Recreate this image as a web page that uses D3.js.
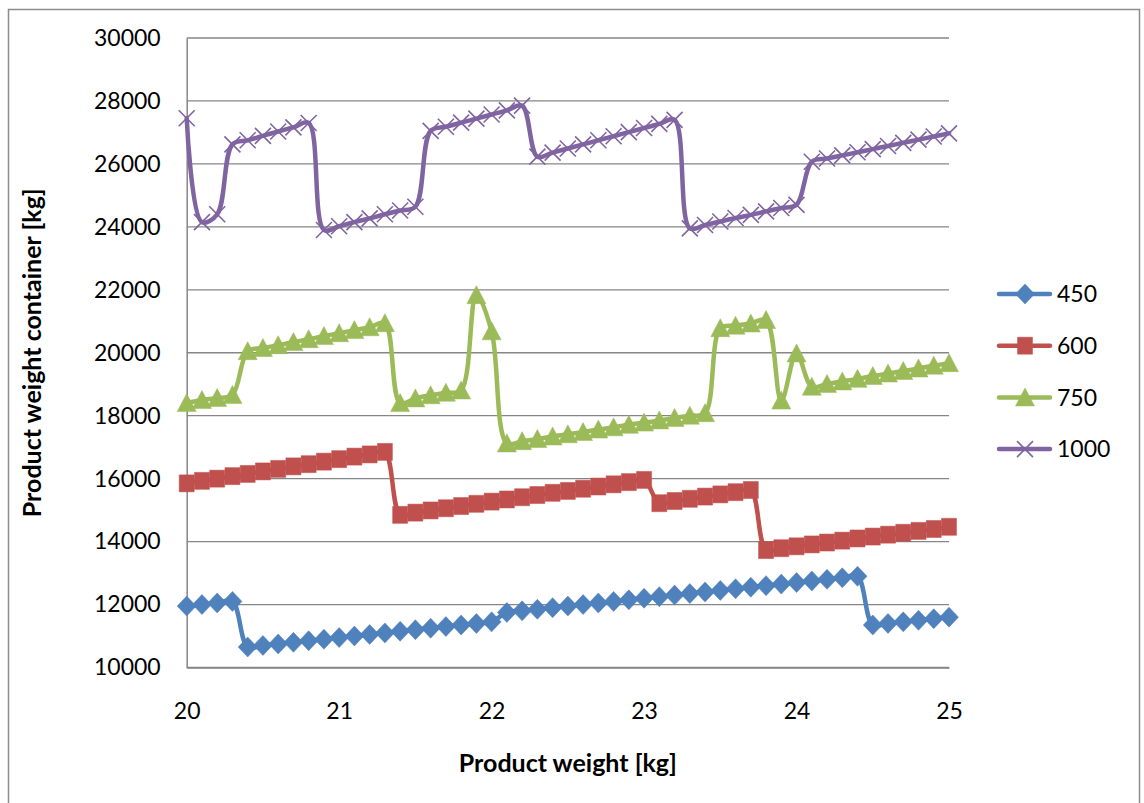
<!DOCTYPE html>
<html>
<head>
<meta charset="utf-8">
<script src="https://cdn.jsdelivr.net/npm/d3@7"></script>
<style>
  body { margin: 0; background: #fff; }
  text { font-family: Lato, "Open Sans", sans-serif; fill: #000; }
</style>
</head>
<body>
<svg width="1144" height="803"></svg>
<script>
var svg = d3.select("svg");

// product weight [kg]
var weights = [20.0, 20.1, 20.2, 20.3, 20.4, 20.5, 20.6, 20.7, 20.8, 20.9,
               21.0, 21.1, 21.2, 21.3, 21.4, 21.5, 21.6, 21.7, 21.8, 21.9,
               22.0, 22.1, 22.2, 22.3, 22.4, 22.5, 22.6, 22.7, 22.8, 22.9,
               23.0, 23.1, 23.2, 23.3, 23.4, 23.5, 23.6, 23.7, 23.8, 23.9,
               24.0, 24.1, 24.2, 24.3, 24.4, 24.5, 24.6, 24.7, 24.8, 24.9, 25.0];

var s450 = [11950, 12000, 12050, 12100, 10650, 10700, 10750, 10800, 10850, 10900,
            10950, 11000, 11050, 11100, 11150, 11200, 11250, 11300, 11350, 11400,
            11450, 11750, 11800, 11850, 11900, 11950, 12000, 12050, 12100, 12150,
            12200, 12250, 12300, 12350, 12400, 12450, 12500, 12550, 12600, 12650,
            12700, 12750, 12800, 12850, 12900, 11350, 11400, 11450, 11500, 11550, 11600];

var s600 = [15850, 15930, 16000, 16080, 16150, 16230, 16310, 16390, 16460, 16540,
            16620, 16700, 16770, 16850, 14850, 14920, 14990, 15060, 15130, 15200,
            15270, 15340, 15410, 15480, 15550, 15610, 15680, 15750, 15820, 15890,
            15960, 15220, 15290, 15360, 15430, 15500, 15570, 15640, 13730, 13790,
            13850, 13910, 13970, 14030, 14100, 14160, 14220, 14280, 14340, 14400, 14470];

var s750 = [18400, 18500, 18560, 18660, 20050, 20150, 20240, 20340, 20430, 20530,
            20620, 20720, 20810, 20940, 18400, 18550, 18650, 18730, 18800, 21830,
            20680, 17120, 17190, 17260, 17340, 17410, 17480, 17560, 17630, 17710,
            17780, 17850, 17930, 18000, 18080, 20780, 20860, 20930, 21040, 18480,
            19980, 18920, 19010, 19090, 19170, 19260, 19340, 19420, 19500, 19590, 19670];

var s1000 = [27450, 24150, 24400, 26620, 26750, 26890, 27030, 27160, 27300, 23900,
             24020, 24150, 24270, 24400, 24520, 24640, 27050, 27180, 27310, 27440,
             27570, 27700, 27850, 26230, 26360, 26490, 26620, 26750, 26880, 27010,
             27140, 27270, 27400, 23950, 24060, 24170, 24280, 24380, 24490, 24600,
             24700, 26070, 26170, 26270, 26370, 26470, 26570, 26670, 26770, 26870, 26970];

var seriesNames = ["450", "600", "750", "1000"];
var seriesValues = [s450, s600, s750, s1000];
var seriesColors = ["#4F81BD", "#C0504D", "#9BBB59", "#8064A2"];
var seriesMarkers = ["diamond", "square", "triangle", "cross"];

var xTicks = [20, 21, 22, 23, 24, 25];
var yTicks = [10000, 12000, 14000, 16000, 18000, 20000, 22000, 24000, 26000, 28000, 30000];

var plotLeft = 186.7, plotRight = 949, plotTop = 38, plotBottom = 667.5;
var grid_color = "#868686";

var x = d3.scaleLinear().domain([20, 25]).range([plotLeft, plotRight]);
var y = d3.scaleLinear().domain([10000, 30000]).range([plotBottom, plotTop]);

// outer chart border
svg.append("rect")
   .attr("x", 8.5).attr("y", 9.5)
   .attr("width", 1131).attr("height", 800)
   .attr("fill", "none")
   .attr("stroke", "#8c8c8c")
   .attr("stroke-width", 1.5);

// horizontal gridlines
svg.append("g")
   .selectAll("line")
   .data(yTicks)
   .enter()
   .append("line")
   .attr("x1", plotLeft).attr("x2", plotRight)
   .attr("y1", function(d) { return y(d); })
   .attr("y2", function(d) { return y(d); })
   .attr("stroke", grid_color)
   .attr("stroke-width", 1.3);

// axes (labels only, Excel style)
var yAxis = svg.append("g")
   .attr("transform", "translate(" + plotLeft + ",0)")
   .call(d3.axisLeft(y).tickValues(yTicks).tickSize(0).tickPadding(26).tickFormat(d3.format("d")));
var xAxis = svg.append("g")
   .attr("transform", "translate(0," + plotBottom + ")")
   .call(d3.axisBottom(x).tickValues(xTicks).tickSize(0).tickPadding(32).tickFormat(d3.format("d")));
[yAxis, xAxis].forEach(function(a) {
    a.select(".domain").attr("stroke", grid_color).attr("stroke-width", 1.5);
    a.selectAll("text").style("font-size", "23px").style("font-family", "Lato, sans-serif");
});
xAxis.selectAll("text").attr("dy", "0.36em").attr("y", 43);

function markerPath(type, cx, cy) {
    if (type == "diamond") {
        return "M" + cx + "," + (cy - 10) + "L" + (cx + 9.5) + "," + cy +
               "L" + cx + "," + (cy + 10) + "L" + (cx - 9.5) + "," + cy + "Z";
    } else if (type == "square") {
        return "M" + (cx - 7.5) + "," + (cy - 8.5) + "h15v17h-15Z";
    } else if (type == "triangle") {
        return "M" + cx + "," + (cy - 9.5) + "L" + (cx + 9.5) + "," + (cy + 8.5) +
               "L" + (cx - 9.5) + "," + (cy + 8.5) + "Z";
    }
    return "M" + (cx - 8) + "," + (cy - 8) + "L" + (cx + 8) + "," + (cy + 8) +
           "M" + (cx - 8) + "," + (cy + 8) + "L" + (cx + 8) + "," + (cy - 8);
}

function drawMarker(g, type, color, cx, cy) {
    var p = g.append("path").attr("d", markerPath(type, cx, cy));
    if (type == "cross") {
        p.attr("fill", "none").attr("stroke", color).attr("stroke-width", 1.6);
    } else {
        p.attr("fill", color).attr("stroke", color).attr("stroke-width", 0.5);
    }
}

var line = d3.line()
    .x(function(d) { return x(d[0]); })
    .y(function(d) { return y(d[1]); })
    .curve(d3.curveCatmullRom);

for (var i = 0; i < seriesValues.length; i++) {
    var pts = weights.map(function(w, j) { return [w, seriesValues[i][j]]; });
    var g = svg.append("g").attr("class", "series");
    g.append("path")
     .attr("d", line(pts))
     .attr("fill", "none")
     .attr("stroke", seriesColors[i])
     .attr("stroke-width", 4.5)
     .attr("stroke-linejoin", "round")
     .attr("stroke-linecap", "round");
    for (var j = 0; j < pts.length; j++) {
        drawMarker(g, seriesMarkers[i], seriesColors[i], x(pts[j][0]), y(pts[j][1]));
    }
}

// legend
var legend = svg.append("g").attr("class", "legend");
for (var i = 0; i < seriesNames.length; i++) {
    var ly = 294 + i * 51.7;
    legend.append("line")
          .attr("x1", 999).attr("x2", 1050)
          .attr("y1", ly).attr("y2", ly)
          .attr("stroke", seriesColors[i])
          .attr("stroke-width", 4.5)
          .attr("stroke-linecap", "round");
    drawMarker(legend, seriesMarkers[i], seriesColors[i], 1025, ly);
    legend.append("text")
          .attr("x", 1057).attr("y", ly)
          .attr("dy", "0.36em")
          .style("font-size", "23px")
          .text(seriesNames[i]);
}

// axis titles
svg.append("text")
   .attr("x", (plotLeft + plotRight) / 2)
   .attr("y", 763)
   .attr("dy", "0.36em")
   .attr("text-anchor", "middle")
   .style("font-size", "25px")
   .style("font-weight", "bold")
   .text("Product weight [kg]");

svg.append("text")
   .attr("transform", "translate(32," + ((plotTop + plotBottom) / 2) + ") rotate(-90)")
   .attr("dy", "0.36em")
   .attr("text-anchor", "middle")
   .style("font-size", "25px")
   .style("font-weight", "bold")
   .text("Product weight container [kg]");
</script>
</body>
</html>
